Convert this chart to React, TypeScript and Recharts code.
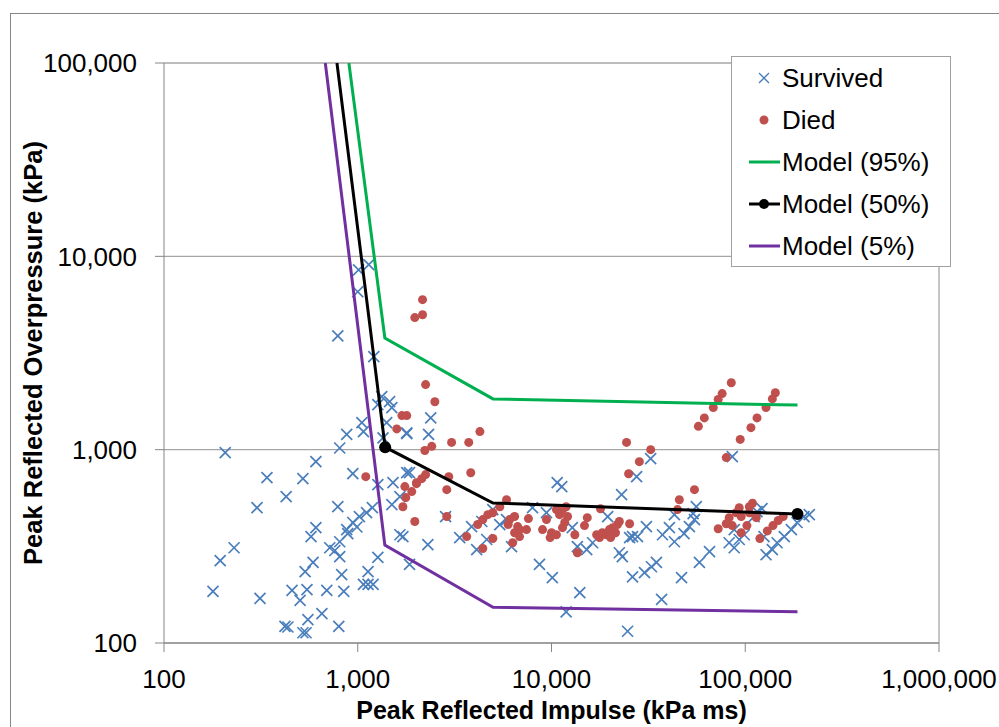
import React from "react";
import { ComposedChart, Scatter, XAxis, YAxis, CartesianGrid, ReferenceLine } from "recharts";

// axis ticks
const impulseTicks = [100, 1000, 10000, 100000, 1000000];
const pressureTicks = [100, 1000, 10000, 100000];

// [impulse kPa ms, overpressure kPa]
const survived: [number, number][] = [
  [1010, 8510], [1140, 9060], [1000, 6560], [789, 3880], [1210, 3030], [1330, 1880], [1460, 1770],
  [1500, 1650], [1410, 1380], [1270, 1710], [1050, 1380], [1070, 1240], [877, 1200], [807, 1020],
  [1350, 1150], [1790, 1220], [207, 965], [608, 867], [340, 717], [521, 708], [943, 751], [427, 571],
  [302, 501], [789, 507], [608, 395], [574, 355], [717, 311], [807, 334], [877, 386], [943, 420],
  [1020, 451], [1110, 472], [1190, 501], [807, 280], [230, 311], [195, 267], [179, 185], [313, 170],
  [588, 261], [535, 234], [826, 226], [1130, 234], [1270, 277], [1130, 201], [1070, 201], [1200, 201],
  [458, 187], [547, 189], [692, 187], [847, 185], [504, 166], [653, 142], [553, 132], [421, 122],
  [436, 121], [541, 113], [521, 113], [798, 122], [1850, 255], [1500, 520], [1650, 571], [1520, 675],
  [1790, 760], [1270, 659], [1710, 355], [1650, 363], [888, 368], [2380, 1460], [2320, 1200],
  [1790, 1210], [1850, 760], [2300, 323], [2840, 451], [3360, 351], [3870, 400], [4110, 304],
  [4630, 343], [4370, 425], [4980, 490], [5410, 410], [6220, 315], [5860, 435], [7980, 501],
  [9420, 472], [10700, 675], [11300, 644], [8670, 255], [10100, 218], [12800, 395], [13600, 315],
  [15200, 304], [16300, 330], [19500, 451], [14000, 182], [11900, 145], [23000, 585], [27500, 725],
  [32500, 898], [22400, 293], [23200, 280], [25300, 351], [26200, 355], [27800, 355], [30900, 400],
  [26200, 220], [30200, 231], [32800, 248], [34800, 261], [24700, 115], [37000, 168], [37400, 363],
  [40600, 395], [43100, 461], [43100, 334], [46900, 218], [51500, 400], [54700, 435], [58000, 261],
  [85700, 920], [55900, 507], [53800, 467], [48300, 368], [65400, 297], [87700, 386], [82600, 330],
  [87700, 311], [93100, 343], [98800, 363], [115000, 478], [122000, 495], [111000, 451],
  [128000, 286], [138000, 304], [146000, 330], [159000, 355], [173000, 386], [185000, 420],
  [125000, 355], [201000, 451], [214000, 461], [762, 301], [990, 398],
];

const died: [number, number][] = [
  [1970, 4820], [2160, 5970], [2160, 4990], [2240, 2170], [2500, 1770], [1690, 1500], [1790, 1500],
  [1590, 1280], [1100, 725], [1750, 644], [2010, 675], [1900, 607], [1770, 565], [1710, 507],
  [1970, 425], [4270, 1240], [3050, 1090], [3740, 1090], [2410, 1040], [2220, 990], [2950, 725],
  [3830, 760], [2880, 621], [2240, 743], [2140, 708], [2010, 667], [2880, 451], [5860, 551],
  [5410, 507], [4980, 472], [4690, 461], [4420, 435], [4160, 410], [3650, 355], [4980, 347],
  [4420, 308], [6080, 435], [6450, 451], [5970, 410], [6690, 400], [6450, 372], [6840, 386],
  [7430, 386], [6300, 330], [7600, 440], [6840, 355], [9420, 435], [8990, 386], [10000, 372],
  [9840, 351], [10600, 363], [10600, 490], [11400, 490], [11900, 507], [11000, 461], [12100, 451],
  [11700, 420], [11400, 395], [13200, 363], [14800, 405], [15300, 445], [13600, 293], [17900, 495],
  [17100, 363], [17700, 351], [18300, 372], [19200, 363], [19900, 386], [20700, 395], [21900, 410],
  [21400, 372], [22400, 425], [20200, 351], [25300, 414], [24400, 1090], [25000, 751], [28400, 867],
  [32500, 1000], [54700, 621], [45700, 551], [44700, 490], [84700, 2220], [76000, 1950],
  [72500, 1820], [68400, 1650], [61500, 1460], [57300, 1320], [143000, 1970], [138000, 1830],
  [128000, 1650], [115000, 1460], [107000, 1300], [94200, 1130], [79800, 910], [93100, 501],
  [89900, 472], [105000, 507], [109000, 528], [95300, 451], [82600, 445], [79800, 414], [85700, 405],
  [105000, 472], [114000, 445], [102000, 405], [95300, 372], [72500, 390], [119000, 347],
  [130000, 380], [139000, 405], [148000, 430], [157000, 451],
];

// model curves
const model95Impulse = [900, 1380, 4990, 186000];
const model95Pressure = [100000, 3780, 1830, 1700];
const model50Impulse = [781, 1385, 4990, 186000];
const model50Pressure = [100000, 1030, 530, 465];
const model5Impulse = [680, 1380, 4990, 186000];
const model5Pressure = [100000, 321, 153, 145];

const legendItems = ["Survived", "Died", "Model (95%)", "Model (50%)", "Model (5%)"];

const BLUE = "#4a7ebb";
const RED = "#c0504d";
const GREEN = "#00b050";
const PURPLE = "#7030a0";
const FONT = "'Liberation Sans', Arial, sans-serif";

const toPoints = (pairs: [number, number][]) => pairs.map(([x, y]) => ({ x, y }));
const zipPoints = (xs: number[], ys: number[]) => xs.map((x, i) => ({ x, y: ys[i] }));

const model95 = zipPoints(model95Impulse, model95Pressure);
const model50 = zipPoints(model50Impulse, model50Pressure);
const model5 = zipPoints(model5Impulse, model5Pressure);
const model50Markers = model50.filter((_, i) => i === 1 || i === model50.length - 1);

const fmt = (v: number) => v.toLocaleString("en-US");

const Cross = (props: any) => {
  const { cx, cy } = props;
  if (cx == null || cy == null) return <g />;
  const s = 5.5;
  return (
    <g stroke={BLUE} strokeWidth={1.7}>
      <line x1={cx - s} y1={cy - s} x2={cx + s} y2={cy + s} />
      <line x1={cx - s} y1={cy + s} x2={cx + s} y2={cy - s} />
    </g>
  );
};

const Dot = (props: any) => {
  const { cx, cy } = props;
  if (cx == null || cy == null) return <g />;
  return <circle cx={cx} cy={cy} r={4.5} fill={RED} />;
};

const BigDot = (props: any) => {
  const { cx, cy } = props;
  if (cx == null || cy == null) return <g />;
  return <circle cx={cx} cy={cy} r={6} fill="#000" />;
};

const NoShape = () => <g />;

const LegendBox = () => (
  <div
    style={{
      position: "absolute",
      left: 731,
      top: 56,
      width: 218,
      height: 209,
      border: "1px solid #a0a0a0",
      background: "#fff",
    }}
  >
    {legendItems.map((name, i) => {
      const top = 21 + i * 42;
      return (
        <div key={name} style={{ position: "absolute", left: 0, top: top - 18, height: 36, width: 218 }}>
          <svg width={50} height={36} style={{ position: "absolute", left: 0, top: 0 }}>
            {i === 0 && (
              <g stroke={BLUE} strokeWidth={1.3}>
                <line x1={27} y1={13} x2={37} y2={23} />
                <line x1={27} y1={23} x2={37} y2={13} />
              </g>
            )}
            {i === 1 && <circle cx={32} cy={18} r={4.5} fill={RED} />}
            {i === 2 && <line x1={17} y1={18} x2={48} y2={18} stroke={GREEN} strokeWidth={3} />}
            {i === 3 && (
              <g>
                <line x1={17} y1={18} x2={48} y2={18} stroke="#000" strokeWidth={3} />
                <circle cx={32} cy={18} r={5} fill="#000" />
              </g>
            )}
            {i === 4 && <line x1={17} y1={18} x2={48} y2={18} stroke={PURPLE} strokeWidth={3} />}
          </svg>
          <span
            style={{
              position: "absolute",
              left: 50,
              top: 0,
              lineHeight: "36px",
              fontSize: 26,
              fontFamily: FONT,
              color: "#000",
              whiteSpace: "nowrap",
            }}
          >
            {name}
          </span>
        </div>
      );
    })}
  </div>
);

export default function App() {
  return (
    <div
      style={{
        position: "absolute",
        left: 0,
        top: 0,
        width: 999,
        height: 727,
        overflow: "hidden",
        background: "#fff",
        fontFamily: FONT,
      }}
    >
      <div
        style={{
          position: "absolute",
          left: 10,
          top: 13,
          width: 1100,
          height: 800,
          border: "1px solid #868686",
        }}
      />
      <div style={{ position: "absolute", left: 0, top: 0 }}>
        <ComposedChart width={999} height={727} margin={{ top: 63, right: 60, bottom: 0, left: 0 }}>
          <CartesianGrid vertical={false} stroke="#a6a6a6" strokeWidth={1.3} />
          <XAxis
            dataKey="x"
            type="number"
            scale="log"
            domain={[100, 1000000]}
            ticks={impulseTicks}
            tickFormatter={fmt}
            allowDataOverflow
            height={84}
            stroke="#868686"
            tickSize={9}
            tickMargin={18}
            tick={{ fill: "#000", fontSize: 26, fontFamily: FONT }}
            interval={0}
          />
          <YAxis
            dataKey="y"
            type="number"
            scale="log"
            domain={[100, 100000]}
            ticks={pressureTicks}
            tickFormatter={fmt}
            allowDataOverflow
            width={164}
            stroke="#868686"
            tickSize={9}
            tickMargin={18}
            tick={{ fill: "#000", fontSize: 26, fontFamily: FONT }}
            interval={0}
          />
          <ReferenceLine x={1000000} stroke="#a6a6a6" strokeWidth={1.3} />
          <Scatter name="Survived" data={toPoints(survived)} shape={Cross} isAnimationActive={false} />
          <Scatter name="Died" data={toPoints(died)} shape={Dot} isAnimationActive={false} />
          <Scatter
            name="Model (95%)"
            data={model95}
            line={{ stroke: GREEN, strokeWidth: 3 }}
            lineType="joint"
            shape={NoShape}
            isAnimationActive={false}
          />
          <Scatter
            name="Model (50%)"
            data={model50}
            line={{ stroke: "#000", strokeWidth: 3 }}
            lineType="joint"
            shape={NoShape}
            isAnimationActive={false}
          />
          <Scatter name="Model (50%) markers" data={model50Markers} shape={BigDot} legendType="none" isAnimationActive={false} />
          <Scatter
            name="Model (5%)"
            data={model5}
            line={{ stroke: PURPLE, strokeWidth: 3 }}
            lineType="joint"
            shape={NoShape}
            isAnimationActive={false}
          />
        </ComposedChart>
      </div>
      <div
        style={{
          position: "absolute",
          left: 164,
          width: 775,
          top: 694,
          textAlign: "center",
          fontFamily: FONT,
          fontWeight: "bold",
          fontSize: 25,
          lineHeight: "32px",
          whiteSpace: "nowrap",
        }}
      >
        Peak Reflected Impulse (kPa ms)
      </div>
      <div
        style={{
          position: "absolute",
          left: 33 - 300,
          top: 353 - 16,
          width: 600,
          height: 32,
          lineHeight: "32px",
          textAlign: "center",
          transform: "rotate(-90deg)",
          fontFamily: FONT,
          fontWeight: "bold",
          fontSize: 25.5,
          whiteSpace: "nowrap",
        }}
      >
        Peak Reflected Overpressure (kPa)
      </div>
      <LegendBox />
    </div>
  );
}
